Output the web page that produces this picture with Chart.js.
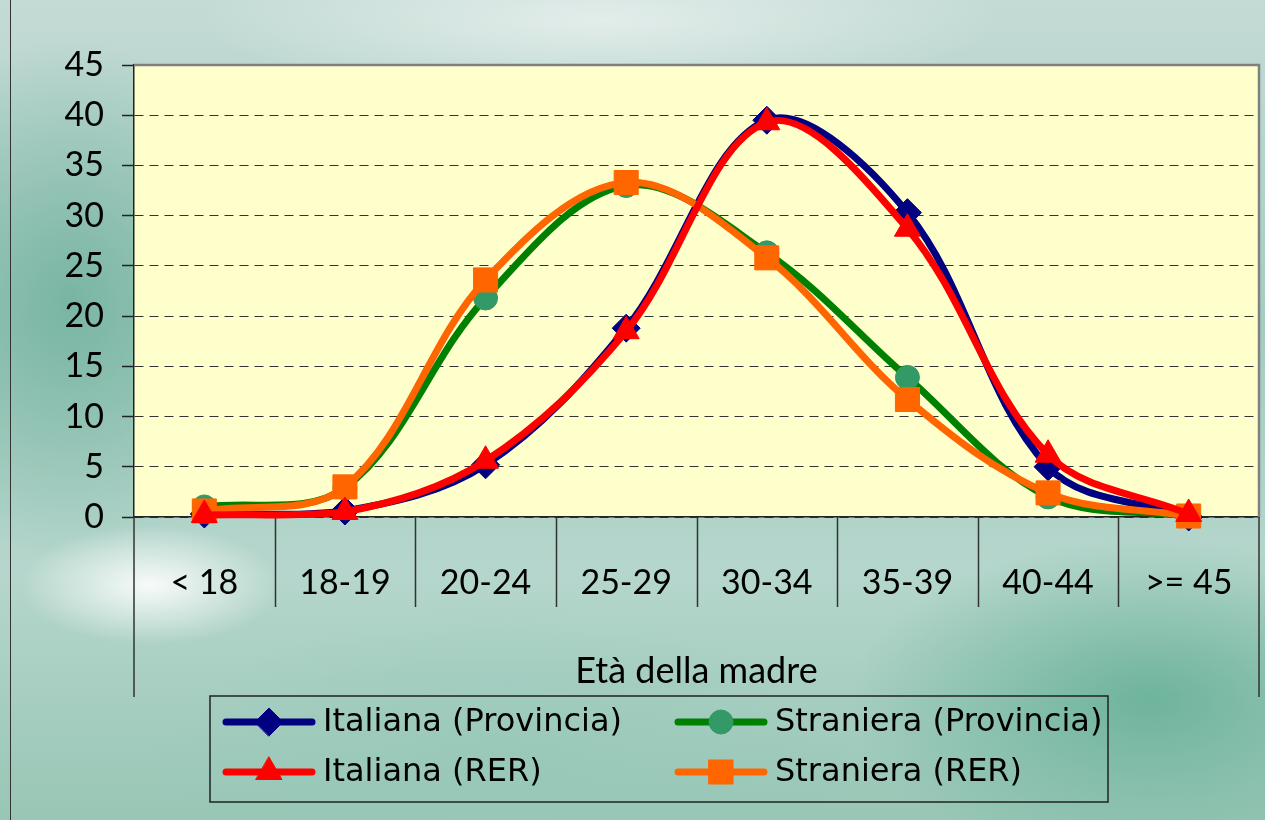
<!DOCTYPE html>
<html>
<head>
<meta charset="utf-8">
<script src="https://cdn.jsdelivr.net/npm/chart.js@4.4.1/dist/chart.umd.min.js"></script>
<style>
  html, body { margin: 0; padding: 0; }
  body {
    width: 1265px; height: 820px; overflow: hidden; position: relative;
    background:
      radial-gradient(ellipse 130px 60px at 150px 585px, rgba(255,255,255,0.9), rgba(255,255,255,0) 100%),
      radial-gradient(ellipse 200px 260px at 70px 300px, rgba(110,175,155,0.8), rgba(110,175,155,0) 100%),
      radial-gradient(ellipse 300px 160px at 1150px 700px, rgba(100,175,150,0.85), rgba(100,175,150,0) 100%),
      radial-gradient(ellipse 400px 80px at 600px 20px, rgba(235,242,240,0.8), rgba(235,242,240,0) 100%),
      radial-gradient(ellipse 350px 150px at 500px 760px, rgba(150,200,185,0.7), rgba(150,200,185,0) 100%),
      linear-gradient(180deg, #c4dbd5 0%, #a3ccbf 40%, #b5d6cc 70%, #98c6b5 100%);
  }
  #frame { position: absolute; left: 10px; top: 0; width: 1px; height: 820px; background: #333; }
  canvas { position: absolute; left: 0; top: 0; }
</style>
</head>
<body>
<div id="frame"></div>
<canvas id="birthChart" width="1265" height="820"></canvas>
<script>
// eta' della madre
const categories = ['< 18', '18-19', '20-24', '25-29', '30-34', '35-39', '40-44', '>= 45'];
const yTicks = [0, 5, 10, 15, 20, 25, 30, 35, 40, 45];

const italianaProvincia = [0.3, 0.6, 5.2, 18.8, 39.5, 30.3, 5.0, 0.0];
const stranieraProvincia = [1.0, 2.9, 21.8, 33.0, 26.3, 13.9, 2.0, 0.1];
const italianaRer = [0.2, 0.5, 5.6, 18.5, 39.3, 28.7, 6.2, 0.3];
const stranieraRer = [0.6, 3.0, 23.6, 33.3, 25.8, 11.7, 2.4, 0.1];

const tickFont = { family: 'Lato', size: 34 };
const legendFont = '32px "DejaVu Sans"';

// yellow plot area + gray top/right border + category dividers under the axis
const framePlugin = {
  id: 'frame',
  beforeDraw(chart) {
    const ctx = chart.ctx, a = chart.chartArea;
    ctx.save();
    ctx.fillStyle = '#FFFFCC';
    ctx.fillRect(a.left, a.top, a.right - a.left, a.bottom - a.top);
    ctx.restore();
  },
  beforeDatasetsDraw(chart) {
    const ctx = chart.ctx, a = chart.chartArea, x = chart.scales.x;
    ctx.save();
    ctx.strokeStyle = '#808080';
    ctx.lineWidth = 2.5;
    ctx.beginPath();
    ctx.moveTo(a.left, a.top);
    ctx.lineTo(a.right, a.top);
    ctx.lineTo(a.right, a.bottom);
    ctx.stroke();

    ctx.strokeStyle = '#333';
    ctx.lineWidth = 1.5;
    ctx.beginPath();
    for (let i = 1; i < categories.length; i++) {
      const px = Math.round(x.getPixelForValue(i - 0.5)) + 0.5;
      ctx.moveTo(px, a.bottom);
      ctx.lineTo(px, a.bottom + 90);
    }
    // outer edges go down to the bottom of the axis box
    ctx.moveTo(a.left, a.bottom);
    ctx.lineTo(a.left, x.bottom);
    ctx.moveTo(a.right, a.bottom);
    ctx.lineTo(a.right, x.bottom);
    ctx.stroke();
    ctx.restore();
  }
};

// 2 x 2 legend in a box, like the excel one
const boxLegend = {
  id: 'boxLegend',
  afterDraw(chart) {
    const ctx = chart.ctx;
    const box = { left: 210, top: 696, right: 1108, bottom: 802 };
    const cols = [226, 678];
    const rows = [722, 772];
    ctx.save();
    ctx.strokeStyle = '#222';
    ctx.lineWidth = 1.5;
    ctx.strokeRect(box.left, box.top, box.right - box.left, box.bottom - box.top);
    chart.data.datasets.forEach((ds, i) => {
      const lx = cols[i % 2], ly = rows[Math.floor(i / 2)];
      ctx.strokeStyle = ds.borderColor;
      ctx.lineWidth = ds.borderWidth;
      ctx.lineCap = 'round';
      ctx.beginPath();
      ctx.moveTo(lx, ly);
      ctx.lineTo(lx + 86, ly);
      ctx.stroke();
      ctx.fillStyle = ds.pointBackgroundColor;
      ctx.strokeStyle = ds.pointBorderColor;
      ctx.lineWidth = 1;
      Chart.helpers.drawPoint(ctx, { pointStyle: ds.pointStyle, radius: ds.pointRadius, rotation: 0, borderWidth: 1 }, lx + 43, ly);
      ctx.fillStyle = '#000';
      ctx.font = legendFont;
      ctx.textBaseline = 'middle';
      ctx.fillText(ds.label, lx + 97, ly + 1);
    });
    ctx.restore();
  }
};

const ctx = document.getElementById('birthChart').getContext('2d');
new Chart(ctx, {
  type: 'line',
  data: {
    labels: categories,
    datasets: [
      {
        label: 'Italiana (Provincia)', data: italianaProvincia,
        borderColor: '#000080', pointBackgroundColor: '#000080', pointBorderColor: '#000080',
        pointStyle: 'rectRot', pointRadius: 14, order: 3
      },
      {
        label: 'Straniera (Provincia)', data: stranieraProvincia,
        borderColor: '#008000', pointBackgroundColor: '#339966', pointBorderColor: '#339966',
        pointStyle: 'circle', pointRadius: 12, order: 2
      },
      {
        label: 'Italiana (RER)', data: italianaRer,
        borderColor: '#FF0000', pointBackgroundColor: '#FF0000', pointBorderColor: '#FF0000',
        pointStyle: 'triangle', pointRadius: 15, order: 0
      },
      {
        label: 'Straniera (RER)', data: stranieraRer,
        borderColor: '#FF6600', pointBackgroundColor: '#FF6600', pointBorderColor: '#FF6600',
        pointStyle: 'rect', pointRadius: 17, order: 1
      }
    ].map(d => Object.assign({ borderWidth: 7, tension: 0.35, fill: false, clip: false, pointBorderWidth: 1 }, d))
  },
  options: {
    responsive: false,
    animation: false,
    maintainAspectRatio: false,
    layout: { autoPadding: false, padding: { top: 65, left: 0, right: 6, bottom: 123 } },
    plugins: { legend: { display: false }, tooltip: { enabled: false } },
    scales: {
      x: {
        offset: true,
        afterFit(s) { s.height = 180; s.paddingLeft = 0; s.paddingRight = 0; },
        grid: { display: true, drawOnChartArea: false, drawTicks: false, color: '#333' },
        border: { display: true, color: '#222', width: 1.5 },
        ticks: { color: '#000', font: tickFont, padding: 46, maxRotation: 0, autoSkip: false },
        title: { display: true, text: 'Età della madre', color: '#000', font: { family: 'Lato', size: 36 }, padding: { top: 0, bottom: 4 } }
      },
      y: {
        min: 0, max: 45,
        afterFit(s) { s.width = 134; },
        afterBuildTicks(s) { s.ticks = yTicks.map(v => ({ value: v })); },
        grid: { color: '#333', lineWidth: 1, tickLength: 12, tickBorderDash: [], tickColor: '#222', tickWidth: 1.5 },
        border: { display: true, color: '#222', width: 1.5, dash: [9, 6] },
        ticks: { color: '#000', font: tickFont, padding: 18 }
      }
    }
  },
  plugins: [framePlugin, boxLegend]
});
</script>
</body>
</html>
